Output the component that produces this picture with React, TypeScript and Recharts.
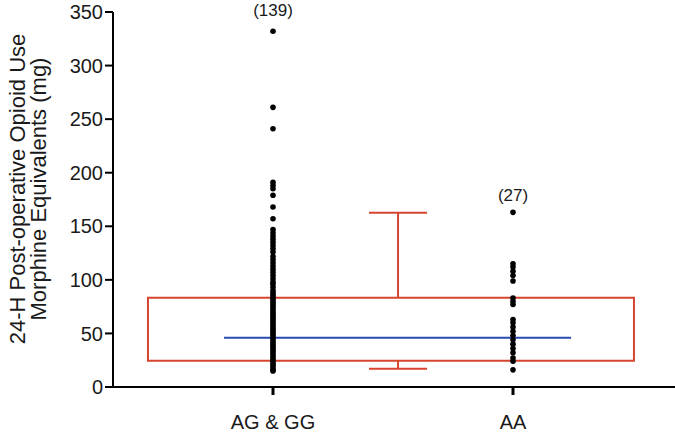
import React from 'react';
import {
  ComposedChart, Scatter, XAxis, YAxis, ReferenceArea, ReferenceLine, Label,
} from 'recharts';

// group positions on the numeric x axis
const groupNames = ['AG & GG', 'AA'];
const groupX = [1, 2];
const yTicks = [0, 50, 100, 150, 200, 250, 300, 350];

const agggValues = [
  332, 261, 241, 191, 188, 185, 179, 168, 157, 147, 144, 141, 138, 135, 132,
  129, 126, 122, 119, 116, 113, 110, 107, 104, 101, 98, 96, 93, 90, 88, 86,
  84, 82, 80, 78, 76, 74, 72, 70, 68, 66, 64, 62, 60, 58, 56, 54, 52, 50, 48,
  46, 44, 42, 40, 38, 36, 34, 32, 30, 28, 26, 24, 22, 20, 18, 16, 15,
];
const aaValues = [
  163, 115, 112, 108, 104, 99, 83, 80, 77, 63, 60, 56, 52, 48, 44, 40, 36,
  32, 27, 24, 16,
];

// box summary as drawn in the figure
const boxX = [0.479, 2.504];
const boxY = [24.5, 83.3];
const medianX = [0.796, 2.242];
const median = 46;
const whiskerX = 1.521;
const capX = [1.4, 1.642];
const whiskerLow = 17;
const whiskerHigh = 162.7;

// group counts placed above the columns
const countLabels = ['(139)', '(27)'];
const countY = [350, 177];

const RED = '#d8452f';
const BLUE = '#2c4bb0';
const FONT = '"Liberation Sans", Arial, Helvetica, sans-serif';

const pointsFor = (x: number, vals: number[]) => vals.map(v => ({ x, y: v }));
const agggData = pointsFor(groupX[0], agggValues);
const aaData = pointsFor(groupX[1], aaValues);
const countData = groupX.map((x, i) => ({ x, y: countY[i], label: countLabels[i] }));

const Dot = (p: any) => <circle cx={p.cx} cy={p.cy} r={2.8} fill="#000" />;
const CountText = (p: any) => (
  <text x={p.cx} y={p.cy + 4} textAnchor="middle" fontSize={17} fontFamily={FONT} fill="#1a1a1a">
    {p.payload.label}
  </text>
);

const YLabel = () => (
  <g fontFamily={FONT} fontSize={22} fill="#1a1a1a" textAnchor="middle">
    <text x={25} y={189} transform="rotate(-90 25 189)">24-H Post-operative Opioid Use</text>
    <text x={46} y={189} transform="rotate(-90 46 189)">Morphine Equivalents (mg)</text>
  </g>
);

export default function App() {
  return (
    <div style={{ position: 'absolute', left: 0, top: 0, background: '#fff' }}>
      <style>{'body{margin:0}'}</style>
      <ComposedChart width={675} height={435} margin={{ top: 12, right: 0, bottom: 0, left: 0 }}>
        <XAxis
          type="number"
          dataKey="x"
          domain={[1 / 3, 2.675]}
          ticks={groupX}
          tickFormatter={(v: number) => groupNames[groupX.indexOf(v)] ?? ''}
          height={48}
          axisLine={{ stroke: '#000', strokeWidth: 2 }}
          tickLine={{ stroke: '#000', strokeWidth: 3 }}
          tickSize={8}
          tickMargin={20}
          tick={{ fontSize: 20, fill: '#1a1a1a', fontFamily: FONT }}
        />
        <YAxis
          type="number"
          dataKey="y"
          domain={[0, 350]}
          ticks={yTicks}
          width={113}
          axisLine={{ stroke: '#000', strokeWidth: 2 }}
          tickLine={{ stroke: '#000', strokeWidth: 2 }}
          tickSize={8}
          tickMargin={2}
          tick={{ fontSize: 20, fill: '#1a1a1a', fontFamily: FONT }}
        >
          <Label content={<YLabel />} />
        </YAxis>
        <ReferenceArea
          x1={boxX[0]} x2={boxX[1]} y1={boxY[0]} y2={boxY[1]}
          fill="none" fillOpacity={0} stroke={RED} strokeWidth={2} ifOverflow="visible"
        />
        <ReferenceLine segment={[{ x: whiskerX, y: boxY[1] }, { x: whiskerX, y: whiskerHigh }]} stroke={RED} strokeWidth={2} />
        <ReferenceLine segment={[{ x: capX[0], y: whiskerHigh }, { x: capX[1], y: whiskerHigh }]} stroke={RED} strokeWidth={2} />
        <ReferenceLine segment={[{ x: whiskerX, y: boxY[0] }, { x: whiskerX, y: whiskerLow }]} stroke={RED} strokeWidth={2} />
        <ReferenceLine segment={[{ x: capX[0], y: whiskerLow }, { x: capX[1], y: whiskerLow }]} stroke={RED} strokeWidth={2} />
        <ReferenceLine segment={[{ x: medianX[0], y: median }, { x: medianX[1], y: median }]} stroke={BLUE} strokeWidth={2} />
        <Scatter data={agggData} shape={<Dot />} isAnimationActive={false} />
        <Scatter data={aaData} shape={<Dot />} isAnimationActive={false} />
        <Scatter data={countData} shape={<CountText />} isAnimationActive={false} />
      </ComposedChart>
    </div>
  );
}
